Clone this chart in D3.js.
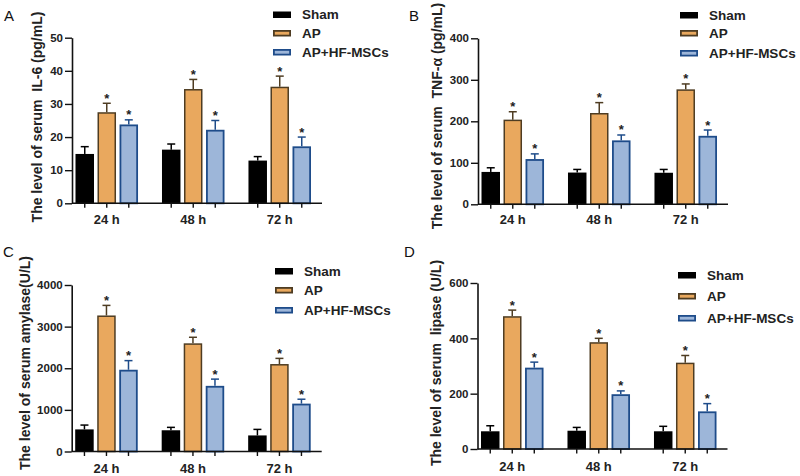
<!DOCTYPE html>
<html><head><meta charset="utf-8">
<script src="https://cdn.jsdelivr.net/npm/d3@7"></script>
<style>body{margin:0;background:#fff}svg{display:block;font-family:"Liberation Sans",Arial,sans-serif}</style>
</head><body><svg id="c" width="800" height="476"></svg>
<script>
const categories = ["24 h","48 h","72 h"];
const seriesNames = ["Sham","AP","AP+HF-MSCs"];

// Panel A: IL-6 (pg/mL)
const il6Mean = {"Sham":[14.9,16.2,12.9],"AP":[27.5,34.5,35.2],"AP+HF-MSCs":[23.8,22.2,17.2]};
const il6Err  = {"Sham":[2.2,1.7,1.2],"AP":[2.7,2.9,3.2],"AP+HF-MSCs":[1.4,2.8,2.8]};
const il6Ticks = [0,10,20,30,40,50];
// Panel B: TNF-α (pg/mL)
const tnfMean = {"Sham":[78,76.5,76],"AP":[204,220,277],"AP+HF-MSCs":[109,154,165]};
const tnfErr  = {"Sham":[10,7.5,8],"AP":[19,25,13],"AP+HF-MSCs":[12.5,13,14]};
const tnfTicks = [0,100,200,300,400];
// Panel C: amylase (U/L)
const amyMean = {"Sham":[531,510,386],"AP":[3268,2599,2101],"AP+HF-MSCs":[1964,1577,1150]};
const amyErr  = {"Sham":[104,70,145],"AP":[242,145,136],"AP+HF-MSCs":[219,162,106]};
const amyTicks = [0,1000,2000,3000,4000];
// Panel D: lipase (U/L)
const lipMean = {"Sham":[64,66,64],"AP":[480,386,312],"AP+HF-MSCs":[294,198,136]};
const lipErr  = {"Sham":[20,12,18],"AP":[22,14,26],"AP+HF-MSCs":[20,12,28]};
const lipTicks = [0,200,400,600];
// significance markers (AP and AP+HF-MSCs bars)
const starred = ["AP","AP+HF-MSCs"];

const fills   = {"Sham":"#000000","AP":"#E9A85E","AP+HF-MSCs":"#9DB6D9"};
const strokes = {"Sham":"#000000","AP":"#4E3C22","AP+HF-MSCs":"#1E4C8A"};

const svg = d3.select("#c");

const panels = [
  {letter:"A", lx:4, ly:21, mean:il6Mean, err:il6Err, ticks:il6Ticks,
   label:"The level of serum  IL-6 (pg/mL)", labX:37, labY:117,
   axX:72, y0:203.3, yT:37.7, catY:224,
   legX:273, legY:[14.5,33,52]},
  {letter:"B", lx:409, ly:21, mean:tnfMean, err:tnfErr, ticks:tnfTicks,
   label:"The level of serum  TNF-α (pg/mL)", labX:437, labY:116,
   axX:478, y0:204.3, yT:38.3, catY:224,
   legX:680, legY:[15,33,53]},
  {letter:"C", lx:3, ly:257, mean:amyMean, err:amyErr, ticks:amyTicks,
   label:"The level of serum amylase(U/L)", labX:25, labY:363,
   axX:71.7, y0:451.5, yT:285, catY:473,
   legX:275, legY:[271,290,310]},
  {letter:"D", lx:404, ly:257, mean:lipMean, err:lipErr, ticks:lipTicks,
   label:"The level of serum  lipase (U/L)", labX:436, labY:363,
   axX:477.5, y0:449, yT:283, catY:471,
   legX:678, legY:[275,296,318]}
];

panels.forEach(p => {
  const g = svg.append("g");
  const maxT = p.ticks[p.ticks.length-1];
  const y = d3.scaleLinear().domain([0,maxT]).range([p.y0,p.yT]);
  const x0 = d3.scaleBand().domain(categories)
      .range([p.axX+3.5, p.axX+3.5+62.5+2*86.5]).paddingInner(0.277).paddingOuter(0);
  const x1 = d3.scaleBand().domain(seriesNames).range([0,x0.bandwidth()]).paddingInner(0.16).paddingOuter(0);

  // panel letter
  g.append("text").attr("x",p.lx).attr("y",p.ly).attr("font-size",15).attr("fill","#111").text(p.letter);

  // y axis
  const ya = g.append("g").attr("transform",`translate(${p.axX},0)`)
    .call(d3.axisLeft(y).tickValues(p.ticks).tickFormat(d3.format("d")).tickSize(7).tickPadding(2).tickSizeOuter(0));
  ya.select(".domain").attr("stroke","#111").attr("stroke-width",1.6);
  ya.selectAll(".tick line").attr("stroke","#111").attr("stroke-width",1.4);
  ya.selectAll(".tick text").attr("font-size",11.5).attr("font-weight","bold").attr("fill","#222")
    .attr("font-family",'"Liberation Sans",Arial,sans-serif');

  // bars
  seriesNames.forEach(s => {
    const sw = s==="Sham"?0:(s==="AP"?1.5:1.8);
    categories.forEach((c,i) => {
      const v = p.mean[s][i], e = p.err[s][i];
      const bx = x0(c)+x1(s), bw = x1.bandwidth();
      const cx = bx + bw/2;
      // error bar
      g.append("line").attr("x1",cx).attr("x2",cx).attr("y1",y(v)).attr("y2",y(v+e))
        .attr("stroke",strokes[s]).attr("stroke-width",1.5);
      g.append("line").attr("x1",cx-4).attr("x2",cx+4).attr("y1",y(v+e)).attr("y2",y(v+e))
        .attr("stroke",strokes[s]).attr("stroke-width",1.5);
      g.append("rect").attr("x",bx+sw/2).attr("y",y(v)+sw/2)
        .attr("width",bw-sw).attr("height",y(0)-y(v)-sw/2)
        .attr("fill",fills[s]).attr("stroke",sw?strokes[s]:"none").attr("stroke-width",sw);
      if (starred.includes(s)) {
        g.append("text").attr("x",cx).attr("y",y(v+e)-0.5).attr("text-anchor","middle")
          .attr("font-size",13).attr("font-weight","bold").attr("fill","#222").text("*");
      }
    });
  });

  // x axis line and ticks under each bar
  g.append("line").attr("x1",p.axX).attr("x2",p.axX+250).attr("y1",y(0)).attr("y2",y(0))
    .attr("stroke","#111").attr("stroke-width",1.6);
  categories.forEach(c => {
    seriesNames.forEach(s => {
      const cx = x0(c)+x1(s)+x1.bandwidth()/2;
      g.append("line").attr("x1",cx).attr("x2",cx).attr("y1",y(0)).attr("y2",y(0)+4.5)
        .attr("stroke","#111").attr("stroke-width",1.4);
    });
    g.append("text").attr("x",x0(c)+x0.bandwidth()/2).attr("y",p.catY).attr("text-anchor","middle")
      .attr("font-size",13).attr("font-weight","bold").attr("fill","#222").text(c);
  });

  // y label
  g.append("text").attr("transform",`translate(${p.labX},${p.labY}) rotate(-90)`)
    .attr("text-anchor","middle").attr("dominant-baseline","central")
    .attr("font-size",14).attr("font-weight","bold").attr("fill","#222")
    .style("white-space","pre").text(p.label);

  // legend
  seriesNames.forEach((s,k) => {
    const sw = s==="Sham"?0:1.8;
    g.append("rect").attr("x",p.legX+sw/2).attr("y",p.legY[k]-3+sw/2)
      .attr("width",18-sw).attr("height",6.5-sw)
      .attr("fill",fills[s]).attr("stroke",sw?strokes[s]:"none").attr("stroke-width",sw);
    g.append("text").attr("x",p.legX+29).attr("y",p.legY[k]).attr("dominant-baseline","central")
      .attr("font-size",13.5).attr("font-weight","bold").attr("fill","#222").text(s);
  });
});
</script></body></html>
